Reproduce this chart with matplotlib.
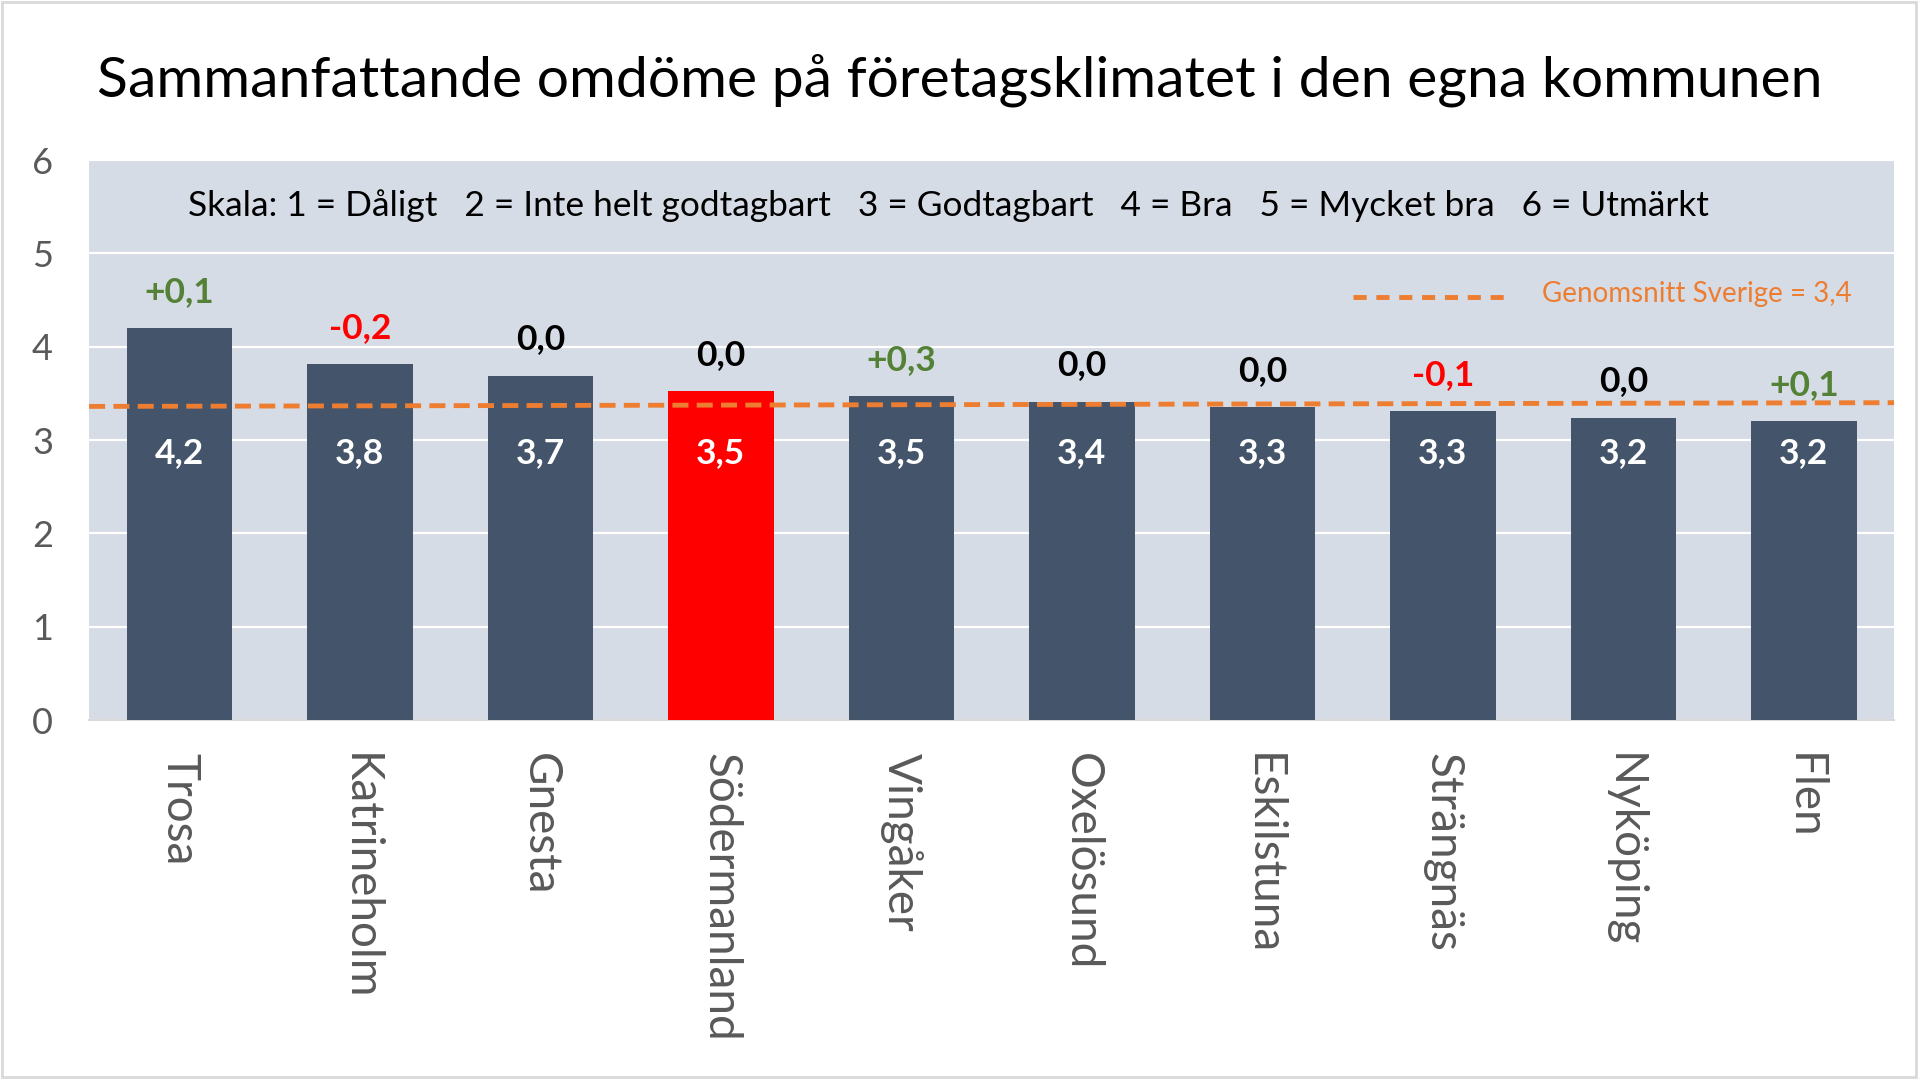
import matplotlib
matplotlib.use('Agg')
import matplotlib.pyplot as plt
from matplotlib.patches import Rectangle

# data
kommuner = ['Trosa', 'Katrineholm', 'Gnesta', 'Södermanland', 'Vingåker',
            'Oxelösund', 'Eskilstuna', 'Strängnäs', 'Nyköping', 'Flen']
omdome = [4.20, 3.81, 3.69, 3.52, 3.47, 3.41, 3.35, 3.31, 3.24, 3.20]
omdome_txt = ['4,2', '3,8', '3,7', '3,5', '3,5', '3,4', '3,3', '3,3', '3,2', '3,2']
forandring = ['+0,1', '-0,2', '0,0', '0,0', '+0,3', '0,0', '0,0', '-0,1', '0,0', '+0,1']
sverige = [3.36, 3.40]   # dashed line, left and right end
yticks = [0, 1, 2, 3, 4, 5, 6]

plt.rcParams['font.family'] = ['Lato', 'DejaVu Sans']

barColor = '#44546A'
redColor = '#FF0000'
greenColor = '#538135'
orange = '#ED7D31'
bgColor = '#D6DCE5'
gray = '#595959'

fig = plt.figure(figsize=(19.2, 10.79), dpi=100, facecolor='white')
ax = fig.add_axes([0.0464, 0.3327, 0.9401, 0.5190])
ax.set_facecolor(bgColor)

x = list(range(len(kommuner)))
colors = [redColor if k == 'Södermanland' else barColor for k in kommuner]
ax.bar(x, omdome, width=0.585, color=colors, zorder=3)

ax.set_xlim(-0.5, len(kommuner) - 0.5)
ax.set_ylim(0, 6)
ax.set_yticks(yticks)
ax.yaxis.grid(True, color='white', linewidth=1.6, zorder=1)
ax.set_axisbelow(True)
for s in ['top', 'right', 'left']:
    ax.spines[s].set_visible(False)
ax.spines['bottom'].set_color('#D9D9D9')
ax.spines['bottom'].set_linewidth(1.5)
ax.tick_params(axis='y', length=0, pad=26, labelsize=26, labelcolor=gray)
ax.tick_params(axis='x', length=0, pad=24, labelsize=33, labelcolor=gray)
ax.set_xticks(x)
ax.set_xticklabels(kommuner, rotation=-90, va='top', ha='center')

# sverige snitt
ax.plot([-0.5, len(kommuner) - 0.5], sverige, color=orange, linewidth=3.5,
        dashes=(3.3, 1.7), zorder=4)

for i in range(len(kommuner)):
    ax.text(x[i], 2.86, omdome_txt[i], color='white', fontsize=25.5,
            fontweight='bold', ha='center', va='center', zorder=5)
    f = forandring[i]
    if f.startswith('+'):
        c = greenColor
    elif f.startswith('-'):
        c = redColor
    else:
        c = 'black'
    ax.text(x[i], omdome[i] + 0.39, f, color=c, fontsize=25.5,
            fontweight='bold', ha='center', va='center', zorder=5)

ax.text(4.26, 5.51, 'Skala: 1 = Dåligt   2 = Inte helt godtagbart   3 = Godtagbart   '
        '4 = Bra   5 = Mycket bra   6 = Utmärkt',
        fontsize=25.4, color='black', ha='center', va='center', zorder=5)

# legend
ax.plot([6.50, 7.38], [4.53, 4.53], color=orange, linewidth=3.5,
        dashes=(2.7, 2.0), zorder=4)
ax.text(7.55, 4.56, 'Genomsnitt Sverige = 3,4', color=orange, fontsize=20,
        ha='left', va='center', zorder=5)

fig.text(0.5, 0.926, 'Sammanfattande omdöme på företagsklimatet i den egna kommunen',
         fontsize=41, ha='center', va='center', color='black')

fig.patches.append(Rectangle((0.001, 0.002), 0.997, 0.996, transform=fig.transFigure,
                             fill=False, edgecolor='#D9D9D9', linewidth=2))

fig.savefig('out.png', dpi=100, facecolor='white')
